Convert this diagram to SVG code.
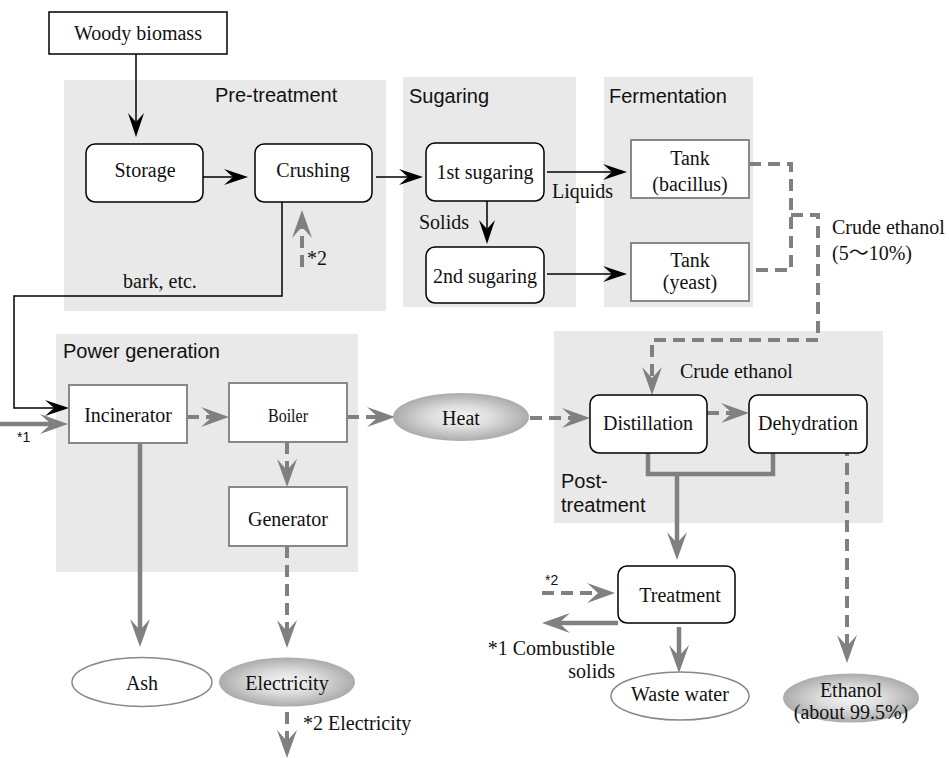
<svg xmlns="http://www.w3.org/2000/svg" width="949" height="758" viewBox="0 0 949 758">
<style>
  .bg{fill:#e9e9e9;stroke:none}
  .rb{fill:#fff;stroke:#000;stroke-width:1.5}
  .gb{fill:#fff;stroke:#888;stroke-width:2}
  .ow{fill:#fff;stroke:#888;stroke-width:1.5}
  .og{fill:url(#grad);stroke:none}
  .t{font-family:"Liberation Serif","Times New Roman",serif;font-size:20px;fill:#111}
  .c{text-anchor:middle}
  .e{text-anchor:end}
  .h{font-family:"Liberation Sans",Arial,sans-serif;font-size:20px;fill:#111}
  .s{font-family:"Liberation Sans",Arial,sans-serif;font-size:14px;fill:#111}
  .kb{fill:none;stroke:#000;stroke-width:1.5}
  .ks{fill:none;stroke:#808080;stroke-width:4.5}
  .kd{fill:none;stroke:#808080;stroke-width:4;stroke-dasharray:12 7}
  .ab{marker-end:url(#ab)}
  .ag{marker-end:url(#ag)}
</style>
<defs>
  <marker id="ab" markerUnits="userSpaceOnUse" viewBox="0 0 24 16" markerWidth="24" markerHeight="16" refX="12" refY="8" orient="auto">
    <path d="M24,8 L0,0 L9,8 L0,16 Z" fill="#000"/>
  </marker>
  <marker id="ag" markerUnits="userSpaceOnUse" viewBox="0 0 28 20" markerWidth="28" markerHeight="20" refX="14" refY="10" orient="auto">
    <path d="M28,10 L0,0 L11,10 L0,20 Z" fill="#808080"/>
  </marker>
  <radialGradient id="grad" cx="50%" cy="50%" r="50%">
    <stop offset="0" stop-color="#f6f6f6"/>
    <stop offset="0.45" stop-color="#dedede"/>
    <stop offset="1" stop-color="#ababab"/>
  </radialGradient>
</defs>

<g id="areas">
  <rect class="bg" x="64" y="80" width="322" height="231"/>
  <rect class="bg" x="403" y="77" width="173" height="230"/>
  <rect class="bg" x="604" y="77" width="149" height="230"/>
  <rect class="bg" x="56" y="334" width="302" height="238"/>
  <rect class="bg" x="554" y="331" width="329" height="192"/>
  <text class="h" x="215" y="102">Pre-treatment</text>
  <text class="h" x="409" y="103">Sugaring</text>
  <text class="h" x="609" y="103">Fermentation</text>
  <text class="h" x="63" y="358">Power generation</text>
  <text class="h" x="561" y="488">Post-</text>
  <text class="h" x="561" y="512">treatment</text>
</g>

<g id="connectors">
  <path class="kb ab" d="M136,54 V125"/>
  <path class="kb ab" d="M199,177 H236"/>
  <path class="kb ab" d="M376,177 H411"/>
  <path class="kb ab" d="M547,172 H615"/>
  <path class="kb ab" d="M487,201 V232"/>
  <path class="kb ab" d="M547,274 H615"/>
  <path class="kb ab" d="M282,202 V296 H14 V408 H57"/>
  <path class="ks ag" d="M0,424 H54"/>
  <path class="ks ag" d="M140,443 V633"/>
  <path class="ks" d="M648,444 V474 H773 V448"/>
  <path class="ks ag" d="M677,474 V546"/>
  <path class="ks ag" d="M618,623 H556"/>
  <path class="ks ag" d="M679,627 V659"/>
  <path class="kd ag" d="M302,267 V224"/>
  <path class="kd ag" d="M187,417 H215"/>
  <path class="kd ag" d="M347,417 H381"/>
  <path class="kd ag" d="M287,442 V473"/>
  <path class="kd ag" d="M530,418 H576"/>
  <path class="kd ag" d="M707,413 H735"/>
  <path class="kd ag" d="M287,546 V634"/>
  <path class="kd ag" d="M287,712 V744"/>
  <path class="kd" d="M749,164 H791 V270 H749"/>
  <path class="kd ag" d="M791,215 H818 V340 H652 V381"/>
  <path class="kd ag" d="M847,444 V649"/>
  <path class="kd ag" d="M542,593 H601"/>
  <text class="t" x="123" y="288">bark, etc.</text>
  <text class="t" x="307" y="265">*2</text>
  <text class="t" x="552" y="198">Liquids</text>
  <text class="t" x="419" y="229">Solids</text>
  <text class="t" x="832" y="234">Crude ethanol</text>
  <text class="t" x="832" y="260" style="font-family:'Liberation Serif','Noto Sans CJK JP',serif">(5〜10%)</text>
  <text class="s" x="17" y="442">*1</text>
  <text class="t" x="680" y="378">Crude ethanol</text>
  <text class="s" x="545" y="585">*2</text>
  <text class="t e" x="615" y="655">*1 Combustible</text>
  <text class="t e" x="615" y="678">solids</text>
  <text class="t" x="303" y="730">*2 Electricity</text>
</g>

<g id="woody"><rect x="49" y="12" width="178" height="42" fill="#fff" stroke="#000" stroke-width="1.5"/><text class="t c" x="138" y="40">Woody biomass</text></g>
<g id="storage"><rect class="rb" x="86" y="144" width="117" height="58" rx="9"/><text class="t c" x="145" y="177">Storage</text></g>
<g id="crushing"><rect class="rb" x="255" y="144" width="117" height="58" rx="9"/><text class="t c" x="313" y="177">Crushing</text></g>
<g id="sug1"><rect class="rb" x="426" y="143" width="118" height="58" rx="9"/><text class="t c" x="485" y="179">1st sugaring</text></g>
<g id="sug2"><rect class="rb" x="426" y="247" width="118" height="56" rx="9"/><text class="t c" x="485" y="283">2nd sugaring</text></g>
<g id="tank1"><rect class="gb" x="631" y="140" width="118" height="58"/><text class="t c" x="690" y="165">Tank</text><text class="t c" x="690" y="191">(bacillus)</text></g>
<g id="tank2"><rect class="gb" x="631" y="243" width="118" height="58"/><text class="t c" x="690" y="267">Tank</text><text class="t c" x="690" y="289">(yeast)</text></g>
<g id="incinerator"><rect class="gb" x="69" y="385" width="118" height="58"/><text class="t c" x="128" y="422">Incinerator</text></g>
<g id="boiler"><rect class="gb" x="229" y="383" width="118" height="59"/><text class="t c" x="288" y="422" style="font-size:18px" textLength="40" lengthAdjust="spacingAndGlyphs">Boiler</text></g>
<g id="generator"><rect class="gb" x="229" y="487" width="118" height="59"/><text class="t c" x="288" y="526">Generator</text></g>
<g id="heat"><ellipse class="og" cx="461" cy="417" rx="68" ry="24"/><text class="t c" x="461" y="425">Heat</text></g>
<g id="distillation"><rect class="rb" x="590" y="395" width="117" height="58" rx="9"/><text class="t c" x="648" y="430">Distillation</text></g>
<g id="dehydration"><rect class="rb" x="749" y="395" width="118" height="58" rx="9"/><text class="t c" x="808" y="430">Dehydration</text></g>
<g id="treatment"><rect class="rb" x="618" y="566" width="117" height="57" rx="9"/><text class="t c" x="680" y="602">Treatment</text></g>
<g id="ash"><ellipse class="ow" cx="142" cy="682" rx="70" ry="24.5"/><text class="t c" x="142" y="690">Ash</text></g>
<g id="electricity"><ellipse class="og" cx="287" cy="682" rx="68" ry="24.5"/><text class="t c" x="287" y="690">Electricity</text></g>
<g id="wastewater"><ellipse class="ow" cx="680" cy="696" rx="69" ry="24"/><text class="t c" x="680" y="701">Waste water</text></g>
<g id="ethanol"><ellipse class="og" cx="851" cy="698" rx="68" ry="24.5"/><text class="t c" x="851" y="697">Ethanol</text><text class="t c" x="851" y="719">(about 99.5%)</text></g>
</svg>
